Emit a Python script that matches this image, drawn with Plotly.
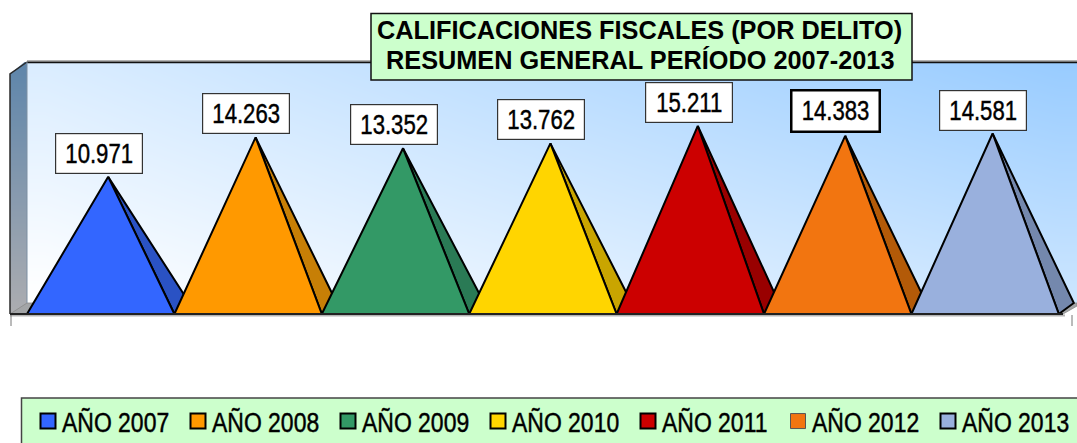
import plotly.graph_objects as go

years = ["AÑO 2007", "AÑO 2008", "AÑO 2009", "AÑO 2010", "AÑO 2011", "AÑO 2012", "AÑO 2013"]
values = [10971, 14263, 13352, 13762, 15211, 14383, 14581]
front_colors = ["#3366FF", "#FF9900", "#339966", "#FFD500", "#CC0000", "#F27510", "#99B0DD"]
side_colors = ["#2A52C4", "#C77F06", "#2A7A55", "#C9A500", "#990000", "#B35A08", "#7488AD"]
title_lines = ["CALIFICACIONES FISCALES (POR DELITO)", "RESUMEN GENERAL PERÍODO 2007-2013"]

W, H = 1077, 443
CAT_PX = 147.4
CAT0_PX = 100.7
BASE_PX = 314
UNIT_PX = 0.012
def X(px): return (px - CAT0_PX) / CAT_PX
def Y(py): return (BASE_PX - py) / UNIT_PX
DX = 15 / CAT_PX
DY = 11 / UNIT_PX

FONT = "Liberation Sans, Arial, sans-serif"
fig = go.Figure()

def edges(a, b, n):
    return [a + (b - a) * k / n for k in range(n + 1)]

N = 30
# back wall gradient
fig.add_trace(go.Heatmap(
    x=edges(X(27), X(1077), N), y=edges(Y(303), Y(62), N),
    z=[[0.36 * (r / (N - 1)) * (1 - c / (N - 1)) + (0.5 * (c / (N - 1)) * (1 - r / (N - 1))) + (r / (N - 1)) * (c / (N - 1))
        for c in range(N)] for r in range(N)],
    zsmooth="best", showscale=False, hoverinfo="skip", zmin=0, zmax=1,
    colorscale=[[0, "#FFFFFF"], [1, "#99CCFF"]],
))
# left wall gradient
fig.add_trace(go.Heatmap(
    x=edges(X(10), X(27), 2), y=edges(Y(314), Y(62), N),
    z=[[r / (N - 1)] * 2 for r in range(N)],
    zsmooth="best", showscale=False, hoverinfo="skip", zmin=0, zmax=1,
    colorscale=[[0, "#ABACB0"], [1, "#5F86AB"]],
))
def poly(xs, ys, fill, line="#000000", width=1.5, closed=True):
    fig.add_trace(go.Scatter(
        x=[X(p) for p in xs], y=[Y(p) for p in ys], mode="lines",
        fill="toself" if closed else None, fillcolor=fill if closed else None,
        line=dict(color=line, width=width), showlegend=False, hoverinfo="skip",
    ))
# masks and frame
poly([8, 27, 10, 8], [60, 60, 74, 74], "#FFFFFF", line="#FFFFFF", width=0)
poly([10, 27, 1077, 1077, 1063, 10], [314, 303, 303, 306, 314, 314], "#A3A5A7", line="#8A8A8A", width=0.8)
poly([27, 1077], [61.5, 61.5], None, line="#9A9A9A", width=2.5, closed=False)
poly([27, 1077], [62.5, 62.5], None, line="#111111", width=1.5, closed=False)
poly([10, 10, 27], [314, 74, 62], None, line="#2A2A2A", width=1.5, closed=False)
poly([27, 27], [62, 303], None, line="#7C8FA2", width=1, closed=False)
poly([10, 1065], [315.5, 315.5], None, line="#B5B5B5", width=2, closed=False)
poly([11, 11], [315, 326], None, line="#777777", width=1, closed=False)
poly([1072, 1072], [315, 326], None, line="#777777", width=1, closed=False)

# pyramids, drawn from the values
for i, (name, v, fc, sc) in enumerate(zip(years, values, front_colors, side_colors)):
    ax, ay = i + DX / 2, v + DY / 2
    fig.add_trace(go.Scatter(
        x=[i + 0.5, i + 0.5 + DX, ax, i + 0.5], y=[0, DY, ay, 0], mode="lines", fill="toself",
        fillcolor=sc, line=dict(color="#000000", width=2), showlegend=False, hoverinfo="skip",
    ))
    fig.add_trace(go.Scatter(
        x=[i - 0.5, i + 0.5, ax, i - 0.5], y=[0, 0, ay, 0], mode="lines", fill="toself",
        fillcolor=fc, line=dict(color="#000000", width=2), showlegend=False,
        name=name, hovertemplate=name + ": %{text}<extra></extra>", text=[f"{v:,}".replace(",", ".")] * 4,
    ))
poly([10, 1063], [314, 314], None, line="#222222", width=2, closed=False)

# legend entries
for i, (name, fc) in enumerate(zip(years, front_colors)):
    thin = name == "AÑO 2012"
    fig.add_trace(go.Scatter(
        x=[None], y=[None], mode="markers", name=name,
        marker=dict(symbol="square", size=15, color=fc,
                    line=dict(color="#555555" if thin else "#000000", width=1 if thin else 2)),
    ))

annotations = []
for i, v in enumerate(values):
    thick = i == 5
    annotations.append(dict(
        x=i - 0.012, y=v + DY / 2, yanchor="bottom", yshift=3, showarrow=False,
        text=f"{v:,}".replace(",", "."), font=dict(family=FONT, size=27, color="#000000"),
        bgcolor="#FFFFFF", bordercolor="#000000" if thick else "#333333",
        borderwidth=2.5 if thick else 1.2, borderpad=0, width=86, height=39,
    ))
for line, cx, cy in zip(title_lines, [639.0, 639.5], [30.0, 60.0]):
    annotations.append(dict(
        xref="paper", yref="paper", x=cx / W, y=1 - cy / H, xanchor="center", yanchor="middle",
        showarrow=False, text="<b>" + line + "</b>", align="center",
        font=dict(family=FONT, size=25.3, color="#000000"),
    ))

fig.update_layout(
    width=W, height=H, margin=dict(l=0, r=0, t=0, b=0, autoexpand=False),
    paper_bgcolor="#FFFFFF", plot_bgcolor="#FFFFFF",
    xaxis=dict(range=[X(0), X(W)], visible=False, fixedrange=True),
    yaxis=dict(range=[Y(H), Y(0)], visible=False, fixedrange=True),
    showlegend=True,
    legend=dict(
        orientation="h", x=22 / W, xanchor="left", y=1 - 397 / H, yanchor="top",
        bgcolor="rgba(0,0,0,0)", borderwidth=0, entrywidth=105, entrywidthmode="pixels",
        font=dict(family=FONT, size=27, color="#000000"), itemclick=False, itemdoubleclick=False,
        traceorder="normal",
    ),
    shapes=[
        dict(type="rect", xref="paper", yref="paper", x0=21.5 / W, x1=1.02, y0=-0.1, y1=1 - 398 / H,
             fillcolor="#CCFFCC", line=dict(color="#444444", width=1.5), layer="above"),
        dict(type="rect", xref="paper", yref="paper", x0=371 / W, x1=912 / W, y0=1 - 80 / H, y1=1 - 13.5 / H,
             fillcolor="#CCFFCC", line=dict(color="#111111", width=1.5), layer="above"),
    ],
    annotations=annotations,
)
post = """
document.body.style.margin='0';
function squeeze(t,f){
  if(t.getAttribute('textLength'))return;
  var l=t.getComputedTextLength();
  t.setAttribute('lengthAdjust','spacingAndGlyphs');t.setAttribute('textLength',l*f);
  t.style.stroke='#000';t.style.strokeWidth='0.45px';
}
function narrow(){
  document.querySelectorAll('.annotation-text').forEach(function(t){
    if(/^[0-9]/.test(t.textContent))squeeze(t,0.82);
  });
  document.querySelectorAll('.legendtext').forEach(function(t){squeeze(t,0.85);});
  document.querySelectorAll('.legendsymbols').forEach(function(s){s.setAttribute('transform','translate(6,0)');});
}
narrow();setTimeout(narrow,100);
"""
fig.write_html("out.html", post_script=post, config={"displayModeBar": False})
